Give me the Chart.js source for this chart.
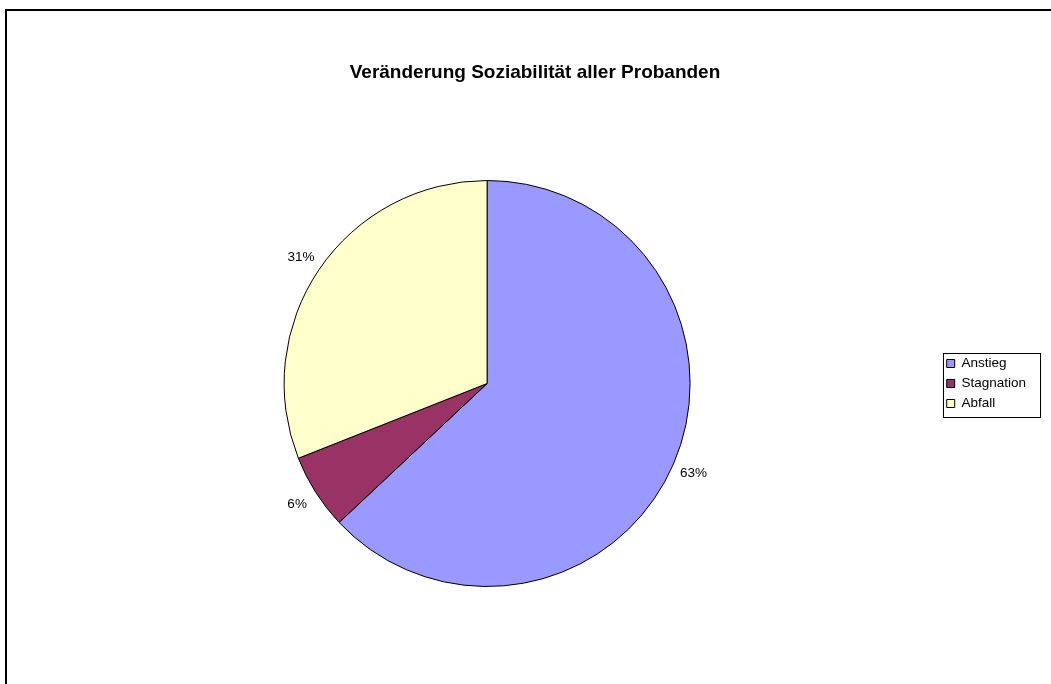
<!DOCTYPE html>
<html lang="de">
<head>
<meta charset="utf-8">
<title>Veränderung Soziabilität aller Probanden</title>
<script src="https://cdn.jsdelivr.net/npm/chart.js@4/dist/chart.umd.min.js"></script>
<style>
  html, body { margin: 0; padding: 0; background: #ffffff; overflow: hidden; width: 1051px; height: 684px; }
  #frame {
    position: absolute; left: 5px; top: 9px;
    width: 1054px; height: 700px;
    border: 2px solid #000000;
    background: #ffffff;
  }
  #chart { display: block; }
</style>
</head>
<body>
<div id="frame"><canvas id="chart" width="1054" height="700"></canvas></div>
<script>
// Anteile der Probanden je Entwicklung der Soziabilität (in %)
const categories = ['Anstieg', 'Stagnation', 'Abfall'];
const shares = [63, 6, 31];
const chartTitle = 'Veränderung Soziabilität aller Probanden';

const sliceColors = ['#9999FF', '#993366', '#FFFFCC'];
const FONT = '"Liberation Sans", Arial, Helvetica, sans-serif';

// Prozentangaben außerhalb der Tortenstücke
const percentLabels = {
  id: 'percentLabels',
  afterDatasetsDraw(chart) {
    const ctx = chart.ctx;
    const meta = chart.getDatasetMeta(0);
    const values = chart.data.datasets[0].data;
    const total = values.reduce((a, b) => a + b, 0);
    ctx.save();
    ctx.font = '13.5px ' + FONT;
    ctx.fillStyle = '#000000';
    ctx.textAlign = 'center';
    ctx.textBaseline = 'middle';
    meta.data.forEach((arc, i) => {
      const p = arc.getProps(['x', 'y', 'startAngle', 'endAngle', 'outerRadius'], true);
      const mid = (p.startAngle + p.endAngle) / 2;
      const r = p.outerRadius + 22;
      const pct = Math.round(values[i] / total * 100);
      ctx.fillText(pct + '%', p.x + Math.cos(mid) * r, p.y + Math.sin(mid) * r);
    });
    ctx.restore();
  }
};

// Rahmen um die Legende
const legendFrame = {
  id: 'legendFrame',
  afterDraw(chart) {
    const boxes = chart.legend && chart.legend.legendHitBoxes;
    if (!boxes || !boxes.length) return;
    const left = Math.min(...boxes.map(b => b.left)) - 4;
    const right = Math.max(...boxes.map(b => b.left + b.width)) + 14;
    const top = Math.min(...boxes.map(b => b.top)) - 4;
    const bottom = Math.max(...boxes.map(b => b.top + b.height)) + 6;
    const ctx = chart.ctx;
    ctx.save();
    ctx.strokeStyle = '#000000';
    ctx.lineWidth = 1;
    ctx.strokeRect(Math.round(left) + 0.5, Math.round(top) + 0.5,
                   Math.round(right - left), Math.round(bottom - top));
    ctx.restore();
  }
};

new Chart(document.getElementById('chart'), {
  type: 'pie',
  data: {
    labels: categories,
    datasets: [{
      data: shares,
      backgroundColor: sliceColors,
      borderColor: '#000000',
      borderWidth: 1
    }]
  },
  options: {
    responsive: false,
    animation: false,
    devicePixelRatio: 1,
    radius: 203,
    layout: { padding: { left: 27, right: 25, top: 0, bottom: 28.4 } },
    plugins: {
      title: {
        display: true,
        text: chartTitle,
        color: '#000000',
        font: { family: FONT, size: 19, weight: 'bold', lineHeight: 1.2 },
        padding: { top: 50.6, bottom: 0 }
      },
      legend: {
        display: true,
        position: 'right',
        fullSize: false,
        labels: {
          boxWidth: 8,
          boxHeight: 8,
          padding: 6.5,
          color: '#000000',
          font: { family: FONT, size: 13.5 }
        }
      },
      tooltip: { enabled: false }
    }
  },
  plugins: [percentLabels, legendFrame]
});
</script>
</body>
</html>
